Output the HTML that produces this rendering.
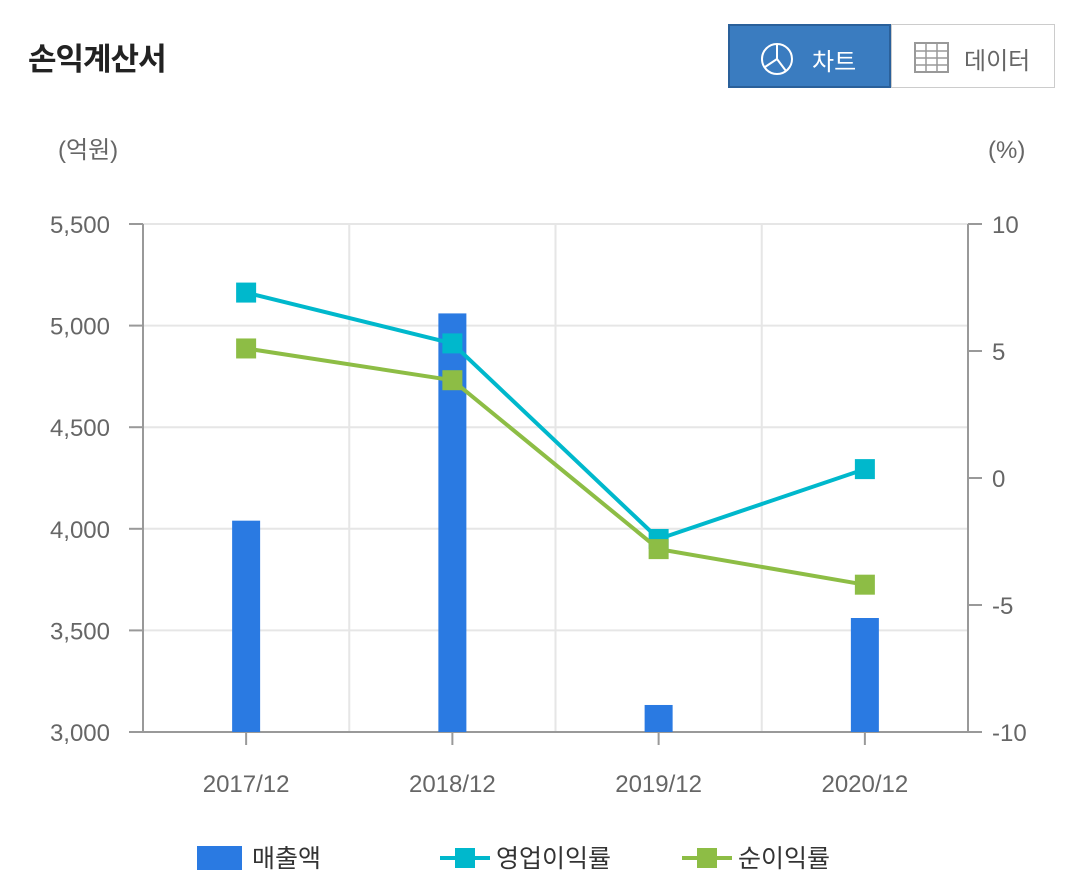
<!DOCTYPE html>
<html><head><meta charset="utf-8">
<style>
body{margin:0;background:#fff;font-family:"Liberation Sans","Noto Sans CJK KR",sans-serif;}
#wrap{position:relative;width:1080px;height:896px;overflow:hidden;}
</style></head>
<body>
<div id="wrap">
<div style="position:absolute;left:28px;top:34px;font-size:31px;font-weight:bold;color:#222;letter-spacing:-1px;">손익계산서</div>
<div style="position:absolute;left:728px;top:24px;width:163px;height:64px;background:#3a7cc0;border:2px solid #2a609a;box-sizing:border-box;color:#fff;font-size:24px;">
<svg style="position:absolute;left:30px;top:16px" width="34" height="34"><circle cx="17" cy="17" r="15" fill="none" stroke="#fff" stroke-width="2"/><path d="M17 17 L17 2 M17 17 L5 25 M17 17 L26 29" stroke="#fff" stroke-width="2"/></svg>
<span style="position:absolute;left:82px;top:16px">차트</span></div>
<div style="position:absolute;left:891px;top:24px;width:164px;height:64px;border:1px solid #ccc;box-sizing:border-box;color:#666;font-size:24px;">
<svg style="position:absolute;left:22px;top:17px" width="36" height="32"><rect x="1" y="1" width="33" height="29" fill="none" stroke="#999" stroke-width="2"/><path d="M1 9H34M1 16H34M1 23H34M12 1V30M23 1V30" stroke="#999" stroke-width="1.5"/></svg>
<span style="position:absolute;left:72px;top:16px">데이터</span></div>
<svg id="chart" width="1080" height="896" style="position:absolute;left:0;top:0"></svg>
</div>
<script>
const categories=["2017/12","2018/12","2019/12","2020/12"];
const sales=[4040,5060,3133,3561];
const opMargin=[7.3,5.3,-2.4,0.35];
const netMargin=[5.1,3.85,-2.8,-4.2];
const leftTicks=[3000,3500,4000,4500,5000,5500];
const leftTickLabels=["3,000","3,500","4,000","4,500","5,000","5,500"];
const rightTicks=[-10,-5,0,5,10];
const rightTickLabels=["-10","-5","0","5","10"];

const NS="http://www.w3.org/2000/svg";
const svg=document.getElementById('chart');
const X0=143,X1=968,Y0=732,Y1=224;
const yL=v=>Y0-(v-3000)/2500*(Y0-Y1);
const yR=v=>Y0-(v+10)/20*(Y0-Y1);
const bw=(X1-X0)/categories.length;
const xC=i=>X0+bw*(i+0.5);
function el(t,a,p){const e=document.createElementNS(NS,t);for(const k in a)e.setAttribute(k,a[k]);(p||svg).appendChild(e);return e;}
function txt(s,a){const e=el('text',Object.assign({'font-size':24,fill:'#666','font-family':'"Liberation Sans","Noto Sans CJK KR",sans-serif'},a));e.textContent=s;return e;}

txt("(억원)",{x:58,y:158});
txt("(%)",{x:988,y:158});
leftTicks.forEach((v,i)=>{
 const g=el('line',{x1:X0,x2:X1,y1:yL(v),y2:yL(v),stroke:'#e6e6e6','stroke-width':2});
 
 el('line',{x1:X0-14,x2:X0,y1:yL(v),y2:yL(v),stroke:'#999','stroke-width':2});
 const t=txt(leftTickLabels[i],{x:110,y:yL(v)+9,'text-anchor':'end'});
 
});
for(let i=1;i<categories.length;i++){el('line',{x1:X0+bw*i,x2:X0+bw*i,y1:Y1,y2:Y0,stroke:'#e6e6e6','stroke-width':2});}
rightTicks.forEach((v,i)=>{
 el('line',{x1:X1,x2:X1+14,y1:yR(v),y2:yR(v),stroke:'#999','stroke-width':2});
 const t=txt(rightTickLabels[i],{x:992,y:yR(v)+9});
 
});
el('line',{x1:X0,x2:X0,y1:Y1,y2:Y0,stroke:'#999','stroke-width':2});
el('line',{x1:X1,x2:X1,y1:Y1,y2:Y0,stroke:'#999','stroke-width':2});
el('line',{x1:X0-14,x2:X1+14,y1:Y0,y2:Y0,stroke:'#999','stroke-width':2});
categories.forEach((c,i)=>{
 el('line',{x1:xC(i),x2:xC(i),y1:Y0,y2:Y0+13,stroke:'#999','stroke-width':2});
 const t=txt(c,{x:xC(i),y:792,'text-anchor':'middle'});
 
});
sales.forEach((v,i)=>{
 const r=el('rect',{x:xC(i)-14,y:yL(v),width:28,height:Y0-yL(v),fill:'#2a7ae2'});
 
});
function series(arr,color,name){
 const p=el('polyline',{points:arr.map((v,i)=>xC(i)+','+yR(v)).join(' '),fill:'none',stroke:color,'stroke-width':4});
 
 arr.forEach((v,i)=>{const m=el('rect',{x:xC(i)-10,y:yR(v)-10,width:20,height:20,fill:color});
 });
}
series(opMargin,'#00b8cc','operating-margin');
series(netMargin,'#8dbd45','net-margin');
// legend
let l=el('rect',{x:197,y:846,width:45,height:24,fill:'#2a7ae2'});
txt("매출액",{x:252,y:867,fill:'#333','font-size':25});
el('line',{x1:440,x2:490,y1:858,y2:858,stroke:'#00b8cc','stroke-width':4});
el('rect',{x:455,y:848,width:20,height:20,fill:'#00b8cc'});
txt("영업이익률",{x:496,y:867,fill:'#333','font-size':25});
el('line',{x1:682,x2:732,y1:858,y2:858,stroke:'#8dbd45','stroke-width':4});
el('rect',{x:697,y:848,width:20,height:20,fill:'#8dbd45'});
txt("순이익률",{x:738,y:867,fill:'#333','font-size':25});
</script>
</body></html>
